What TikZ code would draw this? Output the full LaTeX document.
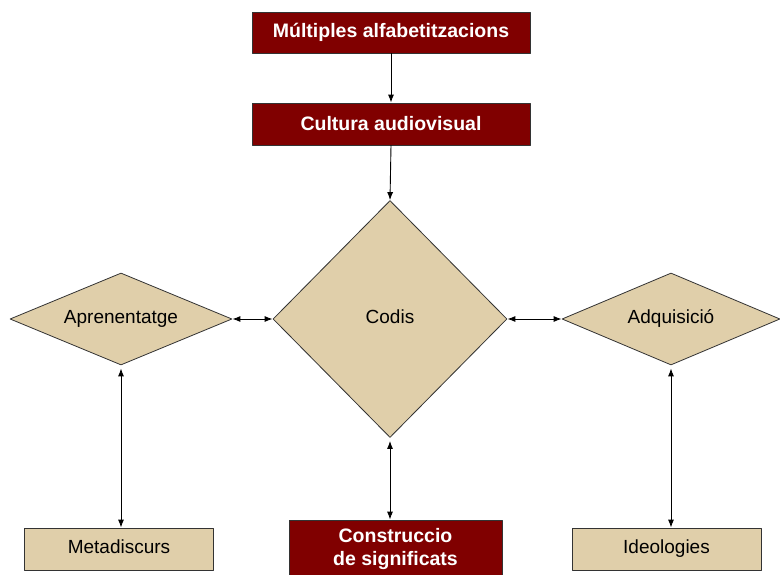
\documentclass[tikz,border=0pt]{standalone}
\usepackage{fontspec}
\setmainfont{Liberation Sans}
\usetikzlibrary{arrows.meta, shapes.geometric}
\definecolor{maroon}{HTML}{800000}
\definecolor{sand}{HTML}{E0CFAA}
\tikzset{
  >={Latex[length=8pt, width=6pt]},
  every picture/.style={line cap=round, line join=round},
  % dark red title boxes
  keybox/.style={draw=black!80, thick, fill=maroon, text=white,
    font=\fontsize{19.5}{23}\selectfont\bfseries, inner sep=0pt, align=center},
  % sand boxes and diamonds
  leafbox/.style={draw=black!80, thick, fill=sand, minimum width=189pt, minimum height=42pt,
    font=\fontsize{19}{22}\selectfont, inner sep=0pt, text height=13pt, text depth=4pt},
  rhomb/.style={diamond, draw=black!80, thick, fill=sand, inner sep=0pt, aspect=2.4,
    font=\fontsize{19}{22}\selectfont, text height=13pt, text depth=4pt},
  link/.style={->, line width=0.9pt, black},
  twoway/.style={<->, line width=0.9pt, black},
}
\begin{document}
\begin{tikzpicture}[x=1pt, y=-1pt]
  \useasboundingbox[fill=white] (0,0) rectangle (780,575);
  % ---------------- top chain
  \node[keybox, minimum width=278pt, minimum height=41pt] (multi) at (391,32.5) {Múltiples alfabetitzacions};
  \node[keybox, minimum width=278pt, minimum height=42pt] (cultura) at (391,124) {Cultura audiovisual};
  % ---------------- diamonds
  \node[rhomb, minimum width=234pt, minimum height=237pt] (codis) at (390,319) {Codis};
  \node[rhomb, minimum width=222pt, minimum height=92pt] (apren) at (121,319) {Aprenentatge};
  \node[rhomb, minimum width=218pt, minimum height=92pt] (adqui) at (671,319) {Adquisició};
  % ---------------- bottom row
  \node[leafbox] (meta) at (119,549) {Metadiscurs};
  \node[keybox, minimum width=213pt, minimum height=57pt] (constr) at (395.5,548.5) {Construccio\\de significats};
  \node[leafbox] (ideo) at (666.5,549) {Ideologies};
  % ---------------- connectors
  \draw[link] (multi.south) -- (cultura.north);
  \draw[link] (cultura.south) -- (codis.north);
  \draw[twoway] (apren.east) -- (codis.west);
  \draw[twoway] (codis.east) -- (adqui.west);
  \draw[twoway] ([yshift=-3pt]apren.south) -- (meta.north -| apren.south);
  \draw[twoway] ([yshift=-3pt]codis.south) -- (constr.north -| codis.south);
  \draw[twoway] ([yshift=-3pt]adqui.south) -- (ideo.north -| adqui.south);
\end{tikzpicture}
\end{document}
